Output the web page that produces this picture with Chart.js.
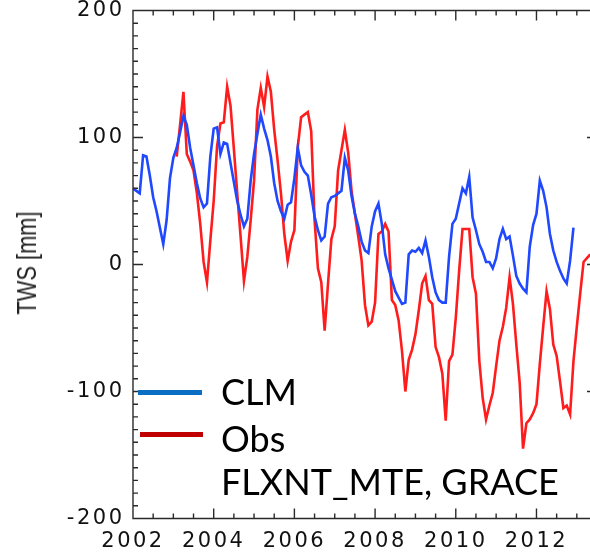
<!DOCTYPE html>
<html>
<head>
<meta charset="utf-8">
<script src="https://cdn.jsdelivr.net/npm/chart.js@4.4.1/dist/chart.umd.min.js"></script>
<style>
html, body { margin: 0; padding: 0; background: #fff; width: 590px; height: 554px; overflow: hidden; }
#wrap { position: relative; width: 600px; height: 554px; }
#twsChart { position: absolute; left: 0; top: 0; }
.ytitle { position: absolute; left: 27px; top: 263px; transform: translate(-50%, -50%) rotate(-90deg) scaleX(0.78);
  font: 28px 'Liberation Sans', Arial, sans-serif; line-height: 28px; color: #222; white-space: nowrap; }
.key-line { position: absolute; height: 5px; }
.key-text { position: absolute; left: 221px; font: 36px Lato, sans-serif; line-height: 35px; color: #000; white-space: nowrap; }
</style>
</head>
<body>
<div id="wrap">
  <canvas id="twsChart" width="600" height="554"></canvas>
  <div class="ytitle">TWS [mm]</div>
  <div class="key-line" style="left:138px;top:390px;width:64px;background:#0a6fc2"></div>
  <div class="key-line" style="left:140px;top:432px;width:63px;background:#c00000"></div>
  <div class="key-text" style="top:374px">CLM</div>
  <div class="key-text" style="top:421px">Obs</div>
  <div class="key-text" style="top:464px">FLXNT_MTE, GRACE</div>
</div>
<script>
// monthly TWS anomaly [mm], CLM from Jan 2002
const clmTws = [
  60, 58, 56, 86, 85, 70, 53, 42, 29, 16, 35, 68,
  84, 92, 104, 117, 110, 92, 78, 64, 52, 45, 48, 85,
  107, 108, 87, 96, 95, 80, 65, 50, 39, 30, 36, 66,
  87, 103, 118, 107, 98, 85, 64, 50, 42, 36, 47, 49,
  68, 92, 78, 73, 70, 55, 38, 27, 19, 22, 48, 53,
  54, 56, 58, 84, 74, 54, 40, 30, 18, 11, 9, 30,
  42, 48, 32, 8, -3, -12, -21, -26, -31, -30, 8, 11,
  10, 13, 9, 19, 6, -10, -22, -28, -30, -30, 6, 32,
  36, 48, 60, 56, 69, 37, 27, 16, 10, 2, 2, -3,
  5, 20, 28, 20, 22, 7, -9, -15, -19, -22, 14, 31,
  40, 66, 58, 45, 24, 11, 2, -5, -11, -15, 3, 29
];

// observations (FLUXNET-MTE + GRACE) start Feb 2003
const obsStartMonth = 13;
const obsTws = [
  85, 110, 136, 87, 81, 74, 56, 32, 2, -14, 19,
  50, 93, 111, 112, 140, 125, 91, 56, 22, -13, 6, 35,
  66, 122, 139, 124, 148, 136, 106, 82, 56, 24, 3, 18,
  27, 92, 116, 118, 120, 105, 35, -3, -14, -52, -15, 20,
  30, 74, 90, 106, 88, 58, 40, 22, 3, -32, -48, -45,
  -30, 24, 26, 32, 26, -28, -32, -44, -68, -100, -75, -67,
  -55, -36, -15, -9, -28, -31, -65, -73, -86, -123, -76, -71,
  -42, -5, 28, 28, 28, -10, -23, -76, -105, -122, -111, -101,
  -80, -60, -49, -34, -10, -31, -63, -93, -145, -125, -122, -117,
  -110, -78, -49, -21, -35, -63, -72, -92, -113, -111, -118, -76,
  -49, -23, 2, 5, 8
];

const startYear = 2002;
const yearTicks = [2002, 2004, 2006, 2008, 2010, 2012];
const twsTicks = [-200, -100, 0, 100, 200];
const xMax = 2013.5;

const toPoints = (vals, first) => vals.map((v, i) => ({ x: startYear + (first + i) / 12, y: v }));

const tickFont = { family: "'DejaVu Sans', Verdana, sans-serif", size: 21, lineHeight: 1 };

// box around the plot with inward tick marks on all four sides
const frameTicks = {
  id: 'frameTicks',
  afterDraw(chart) {
    const ctx = chart.ctx, a = chart.chartArea, x = chart.scales.x, y = chart.scales.y;
    ctx.save();
    ctx.strokeStyle = '#2a2a2a';
    ctx.lineWidth = 1.4;
    ctx.beginPath();
    ctx.rect(a.left, a.top, a.right - a.left, a.bottom - a.top);
    for (let v = -200; v <= 200; v += 10) {
      const py = y.getPixelForValue(v), len = v % 100 === 0 ? 10 : 5;
      ctx.moveTo(a.left, py); ctx.lineTo(a.left + len, py);
      ctx.moveTo(a.right, py); ctx.lineTo(a.right - len, py);
    }
    for (let t = startYear; t <= xMax; t += 0.5) {
      const px = x.getPixelForValue(t), len = (t - startYear) % 2 === 0 ? 10 : 5;
      ctx.moveTo(px, a.bottom); ctx.lineTo(px, a.bottom - len);
      ctx.moveTo(px, a.top); ctx.lineTo(px, a.top + len);
    }
    ctx.stroke();
    ctx.restore();
  }
};

// wider spacing for the axis numbers
const spacedTicks = {
  id: 'spacedTicks',
  beforeDraw(chart) { chart.ctx.letterSpacing = '2.5px'; },
  afterDatasetsDraw(chart) { chart.ctx.letterSpacing = '0px'; }
};

new Chart(document.getElementById('twsChart'), {
  type: 'line',
  data: {
    datasets: [
      { label: 'CLM', data: toPoints(clmTws, 0), borderColor: '#1f48ff', borderWidth: 2.6, pointRadius: 0, tension: 0 },
      { label: 'Obs', data: toPoints(obsTws, obsStartMonth), borderColor: '#ff1c1c', borderWidth: 2.6, pointRadius: 0, tension: 0 }
    ]
  },
  options: {
    responsive: false,
    devicePixelRatio: 1,
    animation: false,
    layout: { padding: { top: 10.5, right: 3, bottom: 0, left: 0 } },
    plugins: { legend: { display: false }, tooltip: { enabled: false } },
    scales: {
      x: {
        type: 'linear', min: startYear, max: xMax,
        grid: { display: false, drawTicks: false }, border: { display: false },
        afterBuildTicks: s => { s.ticks = yearTicks.map(v => ({ value: v })); },
        afterFit: s => { s.height = 35.5; s.paddingLeft = 0; s.paddingRight = 0; },
        ticks: { font: tickFont, color: '#111', padding: 13, maxRotation: 0, autoSkip: false, callback: v => String(v) }
      },
      y: {
        min: -200, max: 200,
        grid: { display: false, drawTicks: false }, border: { display: false },
        afterBuildTicks: s => { s.ticks = twsTicks.map(v => ({ value: v })); },
        afterFit: s => { s.width = 133; s.paddingTop = 0; s.paddingBottom = 0; },
        ticks: { font: tickFont, color: '#111', padding: 8.5, callback: v => String(v) }
      }
    }
  },
  plugins: [spacedTicks, frameTicks]
});
</script>
</body>
</html>
